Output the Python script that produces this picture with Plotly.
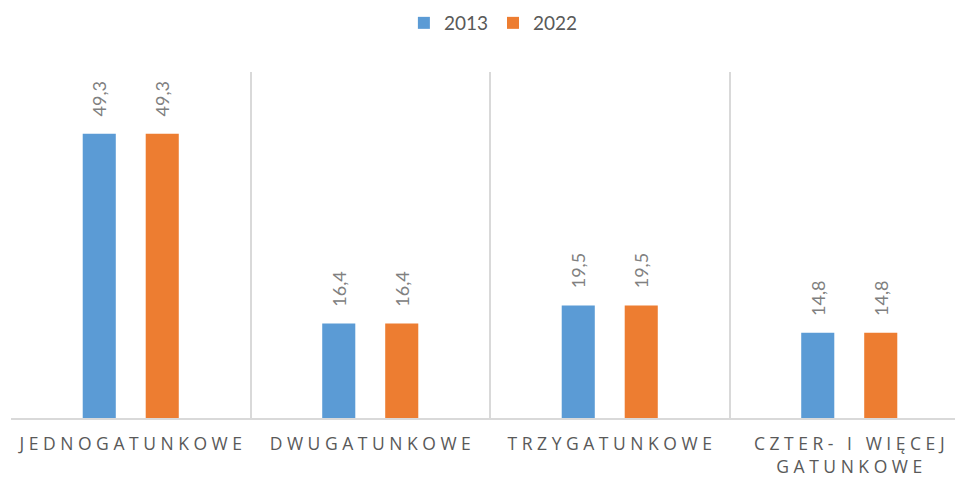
import plotly.graph_objects as go

# Data: share of stands by number of tree species (%)
categories = ["JEDNOGATUNKOWE", "DWUGATUNKOWE", "TRZYGATUNKOWE", "CZTER- I WIĘCEJ GATUNKOWE"]
tick_labels = [
    "J E D N O G A T U N K O W E",
    "D W U G A T U N K O W E",
    "T R Z Y G A T U N K O W E",
    "C Z T E R -\u00a0\u00a0\u00a0I\u00a0\u00a0\u00a0W I Ę C E J<br>G A T U N K O W E",
]
years = ["2013", "2022"]
values_2013 = [49.3, 16.4, 19.5, 14.8]
values_2022 = [49.3, 16.4, 19.5, 14.8]

colors = {"2013": "#5B9BD5", "2022": "#ED7D31"}
BARGAP = 0.474
GROUPGAP = 0.475

x_idx = list(range(len(categories)))
series = {"2013": values_2013, "2022": values_2022}

fig = go.Figure()
for y in years:
    fig.add_trace(go.Bar(
        x=x_idx, y=series[y], name=y,
        marker=dict(color=colors[y], line=dict(width=0)),
        hovertext=categories,
    ))

# value labels above each bar, rotated
slot = (1 - BARGAP) / len(years)
for k, y in enumerate(years):
    off = (k - (len(years) - 1) / 2) * slot
    for i, v in zip(x_idx, series[y]):
        fig.add_annotation(
            x=i + off, y=v, xref="x", yref="y",
            text=f"{v:.1f}".replace(".", ","),
            textangle=-90, showarrow=False,
            xanchor="center", yanchor="bottom", yshift=15,
            font=dict(family="Lato", size=18, color="#808080"),
        )

fig.update_layout(
    width=955, height=482,
    margin=dict(l=11, r=0, t=72, b=64),
    paper_bgcolor="white", plot_bgcolor="white",
    barmode="group", bargap=BARGAP, bargroupgap=GROUPGAP,
    showlegend=True,
    legend=dict(
        orientation="h", x=0.511, xanchor="center",
        y=1 - 23 / 482, yanchor="middle", yref="container",
        font=dict(family="Lato", size=19, color="#595959"),
        itemwidth=30, traceorder="normal",
    ),
    xaxis=dict(
        range=[-0.5, -0.5 + 944 / 239.5],
        tickvals=x_idx, ticktext=tick_labels,
        showgrid=False, zeroline=False,
        showline=True, linecolor="#d9d9d9", linewidth=2,
        ticks="", ticklabelstandoff=9,
        tickfont=dict(family="Open Sans", size=17.5, color="#595959"),
        minor=dict(tickvals=[i - 0.5 for i in x_idx] + [len(x_idx) - 0.5],
                   showgrid=True, gridcolor="#d9d9d9", gridwidth=2, ticks=""),
        fixedrange=True,
    ),
    yaxis=dict(
        range=[0, 60], visible=False, showgrid=False, zeroline=False,
        fixedrange=True,
    ),
)

fig.write_html("out.html")
